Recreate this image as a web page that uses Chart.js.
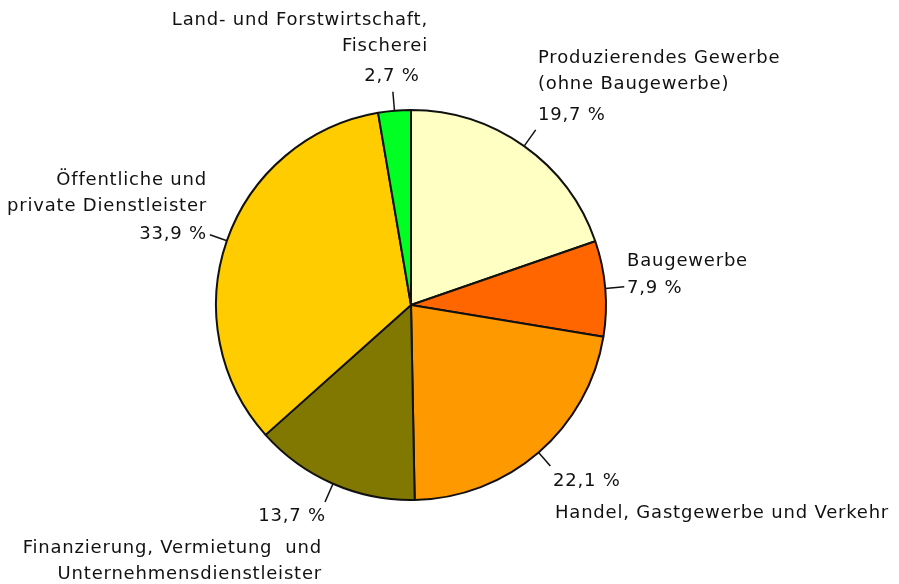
<!DOCTYPE html>
<html lang="de">
<head>
    <meta charset="UTF-8">
    <title>Erwerbstätige nach Wirtschaftsbereichen</title>
    <script src="https://cdn.jsdelivr.net/npm/chart.js"></script>
    <style>
        html, body { margin: 0; padding: 0; background: #fff; }
        .box { width: 899px; height: 584px; position: relative; }
    </style>
</head>
<body>
    <div class="box">
        <canvas id="grafico"></canvas>
    </div>

    <script>
    // Daten (Anteile in %)
    const bereiche = [
        ['Produzierendes Gewerbe', '(ohne Baugewerbe)'],
        ['Baugewerbe'],
        ['Handel, Gastgewerbe und Verkehr'],
        ['Finanzierung, Vermietung  und', 'Unternehmensdienstleister'],
        ['Öffentliche und', 'private Dienstleister'],
        ['Land- und Forstwirtschaft,', 'Fischerei']
    ];
    const anteile = [19.7, 7.9, 22.1, 13.7, 33.9, 2.7];
    const farben = ['#ffffc4', '#ff6600', '#ff9900', '#807800', '#ffcc00', '#00ff22'];

    // Beschriftung: Lage der Texte (x, y der ersten Zeile, Ausrichtung)
    const labelPos = [
        { x: 538, y: 58,  align: 'left',   pctY: 115 },
        { x: 627, y: 261, align: 'left',   pctY: 288 },
        { x: 555, y: 513, align: 'left',   pctY: 481, pctX: 553 },
        { x: 322, y: 548, align: 'right',  pctY: 516, pctX: 326 },
        { x: 207, y: 180, align: 'right',  pctY: 234 },
        { x: 428, y: 20,  align: 'right',  pctY: 76, pctX: 392, pctAlign: 'center' }
    ];
    const leaderLen = [20, 19, 18, 20, 18, 19];

    const fmt = v => v.toFixed(1).replace('.', ',') + ' %';

    const beschriftung = {
        id: 'beschriftung',
        afterDatasetsDraw(chart) {
            const ctx = chart.ctx;
            const meta = chart.getDatasetMeta(0);
            ctx.save();
            ctx.font = '18px "DejaVu Sans"';
            ctx.letterSpacing = '0.8px';
            ctx.fillStyle = '#111';
            ctx.strokeStyle = '#111';
            ctx.lineWidth = 1.5;
            ctx.textBaseline = 'middle';
            meta.data.forEach((arc, i) => {
                const p = arc.getProps(['x', 'y', 'startAngle', 'endAngle', 'outerRadius'], true);
                const a = (p.startAngle + p.endAngle) / 2;
                const r1 = p.outerRadius, r2 = r1 + leaderLen[i];
                ctx.beginPath();
                ctx.moveTo(p.x + Math.cos(a) * r1, p.y + Math.sin(a) * r1);
                ctx.lineTo(p.x + Math.cos(a) * r2, p.y + Math.sin(a) * r2);
                ctx.stroke();

                const lp = labelPos[i];
                ctx.textAlign = lp.align;
                bereiche[i].forEach((t, k) => ctx.fillText(t, lp.x, lp.y + k * 26));
                ctx.textAlign = lp.pctAlign || lp.align;
                ctx.fillText(fmt(anteile[i]), lp.pctX !== undefined ? lp.pctX : lp.x, lp.pctY);
            });
            ctx.restore();
        }
    };

    new Chart(document.getElementById('grafico'), {
        type: 'pie',
        data: {
            labels: bereiche.map(b => b.join(' ')),
            datasets: [{
                data: anteile,
                backgroundColor: farben,
                borderColor: '#111',
                borderWidth: 2
            }]
        },
        options: {
            responsive: true,
            maintainAspectRatio: false,
            devicePixelRatio: 1,
            animation: false,
            layout: { padding: { left: 215, right: 292, top: 109, bottom: 83 } },
            plugins: {
                legend: { display: false },
                tooltip: { enabled: false }
            }
        },
        plugins: [beschriftung]
    });
    </script>
</body>
</html>
